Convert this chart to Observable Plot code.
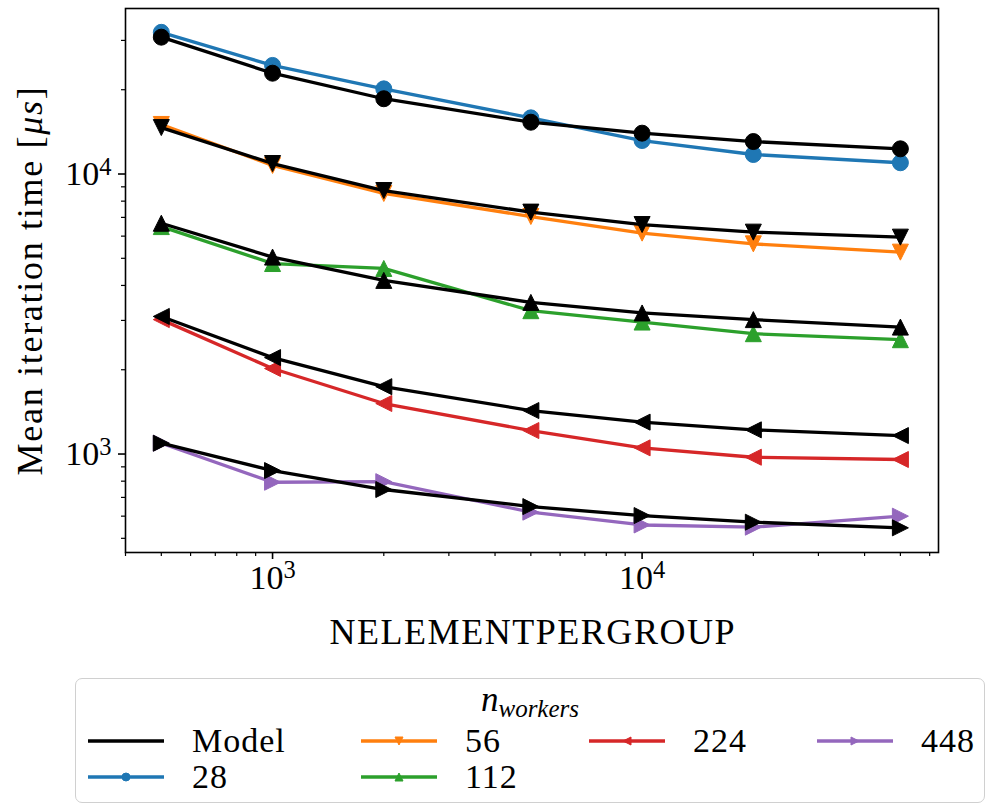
<!DOCTYPE html>
<html>
<head>
<meta charset="utf-8">
<script src="https://cdn.jsdelivr.net/npm/d3@7"></script>
<script src="https://cdn.jsdelivr.net/npm/@observablehq/plot@0.6"></script>
<style>
  html, body { margin: 0; padding: 0; background: #fff; }
  #wrap { position: relative; width: 987px; height: 805px; font-family: "Liberation Serif", serif; color: #000; overflow: hidden; }
  #chart { position: absolute; left: 0; top: 0; }
  .legend-box { position: absolute; left: 75px; top: 678px; width: 910px; height: 125px; box-sizing: border-box;
    border: 1.5px solid #d0d0d0; border-radius: 7px; background: #fff; }
  .legend-title { position: absolute; left: 75px; width: 910px; top: 685px; height: 30px; text-align: center; font-size: 35px; font-style: italic; line-height: 30px; }
  .legend-title sub { font-size: 25px; vertical-align: -6px; line-height: 0; }
  .legend-item { position: absolute; height: 30px; display: flex; align-items: center; white-space: nowrap; }
  .legend-item svg { display: block; margin-right: 28px; }
  .legend-item .lbl { display: inline-block; font-size: 34px; letter-spacing: 1px; line-height: 30px; height: 30px; }
</style>
</head>
<body>
<div id="wrap">
  <div id="chart"></div>
  <div class="legend-box"></div>
  <div class="legend-title">n<sub>workers</sub></div>
  <div id="legend"></div>
</div>
<script>
// ---- data ----
const nElements = [500, 1000, 2000, 5000, 10000, 20000, 50000];
const workerLabels = ["28", "56", "112", "224", "448"];
const measured28  = [32060, 24420, 20140, 15870, 13170, 11740, 10970];
const model28     = [30810, 22910, 18570, 15310, 13990, 13060, 12300];
const measured56  = [15030, 10730, 8520, 7050, 6150, 5630, 5260];
const model56     = [14650, 10900, 8730, 7310, 6600, 6200, 5950];
const measured112 = [6490, 4790, 4600, 3250, 2960, 2690, 2560];
const model112    = [6670, 5050, 4170, 3480, 3190, 3020, 2840];
const measured224 = [3020, 2020, 1515, 1213, 1052, 974, 956];
const model224    = [3100, 2210, 1740, 1430, 1300, 1220, 1164];
const measured448 = [1093, 793, 797, 620, 558, 548, 600];
const model448    = [1093, 873, 747, 649, 603, 571, 545];
const seriesColors = ["#1f77b4", "#ff7f0e", "#2ca02c", "#d62728", "#9467bd"];
const xMajorTicks = [1000, 10000];
const xMinorTicks = [400, 500, 600, 700, 800, 900, 2000, 3000, 4000, 5000, 6000, 7000, 8000, 9000, 20000, 30000, 40000, 50000, 60000];
const yMajorTicks = [1000, 10000];
const yMinorTicks = [500, 600, 700, 800, 900, 2000, 3000, 4000, 5000, 6000, 7000, 8000, 9000, 20000, 30000];
const xDomain = [400, 63400];
const yDomain = [445, 39000];
const xLabel = "NELEMENTPERGROUP";
const yLabel = "Mean iteration time [μs]";

// ---- marker shapes (matplotlib o, v, ^, <, >) ----
function triangle(points) {
  return {
    draw(ctx, size) {
      const r = Math.sqrt(size / Math.PI);
      ctx.moveTo(points[0][0] * r, points[0][1] * r);
      ctx.lineTo(points[1][0] * r, points[1][1] * r);
      ctx.lineTo(points[2][0] * r, points[2][1] * r);
      ctx.closePath();
    }
  };
}
const triDown = triangle([[0, 1], [-1, -1], [1, -1]]);
const triUp = triangle([[0, -1], [-1, 1], [1, 1]]);
const triLeft = triangle([[-1, 0], [1, -1], [1, 1]]);
const triRight = triangle([[1, 0], [-1, -1], [-1, 1]]);
const markerShapes = ["circle", triDown, triUp, triLeft, triRight];

const measuredSeries = [measured28, measured56, measured112, measured224, measured448];
const modelSeries = [model28, model56, model112, model224, model448];

const toRows = (vals) => nElements.map((x, i) => ({x, y: vals[i]}));

const seriesMarks = [];
measuredSeries.forEach((vals, k) => {
  const meas = toRows(vals);
  const mod = toRows(modelSeries[k]);
  const c = seriesColors[k];
  seriesMarks.push(
    Plot.line(meas, {x: "x", y: "y", stroke: c, strokeWidth: 3.3}),
    Plot.dot(meas, {x: "x", y: "y", symbol: markerShapes[k], r: 8, fill: c, stroke: c, strokeWidth: 1}),
    Plot.line(mod, {x: "x", y: "y", stroke: "black", strokeWidth: 3.3}),
    Plot.dot(mod, {x: "x", y: "y", symbol: markerShapes[k], r: 8, fill: "black", stroke: "black", strokeWidth: 1})
  );
});

const supFormat = (d) => `10^${Math.round(Math.log10(d))}`;

const chart = Plot.plot({
  width: 987,
  height: 670,
  marginLeft: 125,
  marginRight: 49,
  marginTop: 8,
  marginBottom: 118,
  style: {fontFamily: "'Liberation Serif', serif", fontSize: "34px", color: "black", background: "white", overflow: "visible"},
  x: {type: "log", domain: xDomain},
  y: {type: "log", domain: yDomain},
  marks: [
    ...seriesMarks,
    Plot.frame({stroke: "black", strokeWidth: 1.6}),
    Plot.axisX(xMinorTicks, {anchor: "bottom", tickSize: 4, strokeWidth: 1.2, fill: "none", label: null}),
    Plot.axisX(xMajorTicks, {anchor: "bottom", tickSize: 7, strokeWidth: 1.6, tickPadding: 5, tickFormat: supFormat, label: null, fontSize: 34}),
    Plot.axisY(yMinorTicks, {anchor: "left", tickSize: 4, strokeWidth: 1.2, fill: "none", label: null}),
    Plot.axisY(yMajorTicks, {anchor: "left", tickSize: 7, strokeWidth: 1.6, tickPadding: 7, tickFormat: supFormat, label: null, fontSize: 34}),
    Plot.text([xLabel], {frameAnchor: "bottom", dy: 80, fontSize: 36, lineAnchor: "middle", textAnchor: "middle"}),
    Plot.text([yLabel], {frameAnchor: "left", rotate: -90, dx: -95, fontSize: 36, lineAnchor: "middle", textAnchor: "middle"})
  ]
});
document.getElementById("chart").appendChild(chart);

// superscripts, italic math, and widths matching the LaTeX typesetting
d3.select(chart).selectAll("text").each(function () {
  const t = this.textContent;
  const m = /^10\^(\d+)$/.exec(t);
  const sel = d3.select(this);
  if (m) {
    sel.text(null);
    sel.append("tspan").text("10");
    sel.append("tspan").attr("dy", "-0.42em").attr("font-size", "0.72em").text(m[1]);
  } else if (t === yLabel) {
    sel.text(null);
    sel.style("letter-spacing", "1.7px");
    sel.append("tspan").text("Mean iteration time [");
    sel.append("tspan").attr("font-style", "italic").text("μs");
    sel.append("tspan").text("]");
  } else if (t === xLabel) {
    sel.attr("textLength", 405).attr("lengthAdjust", "spacing");
  }
});

// ---- legend ----
const legendEntries = [
  {label: "Model", color: "black", marker: null, left: 88, top: 741},
  {label: workerLabels[0], color: seriesColors[0], marker: markerShapes[0], left: 88, top: 777},
  {label: workerLabels[1], color: seriesColors[1], marker: markerShapes[1], left: 361, top: 741},
  {label: workerLabels[2], color: seriesColors[2], marker: markerShapes[2], left: 361, top: 777},
  {label: workerLabels[3], color: seriesColors[3], marker: markerShapes[3], left: 589, top: 741},
  {label: workerLabels[4], color: seriesColors[4], marker: markerShapes[4], left: 817, top: 741}
];
const legend = d3.select("#legend");
legendEntries.forEach((e) => {
  const item = legend.append("div").attr("class", "legend-item")
    .style("left", e.left + "px").style("top", (e.top - 15) + "px");
  const svg = item.append("svg").attr("width", 76).attr("height", 30);
  svg.append("line").attr("x1", 0).attr("x2", 76).attr("y1", 15).attr("y2", 15)
    .attr("stroke", e.color).attr("stroke-width", 3.3);
  if (e.marker) {
    const r = 4;
    const sym = e.marker === "circle" ? d3.symbolCircle : e.marker;
    svg.append("path").attr("transform", "translate(38,15)")
      .attr("d", d3.symbol(sym, Math.PI * r * r)())
      .attr("fill", e.color).attr("stroke", e.color).attr("stroke-width", 1);
  }
  item.append("span").attr("class", "lbl").text(e.label);
});
</script>
</body>
</html>
